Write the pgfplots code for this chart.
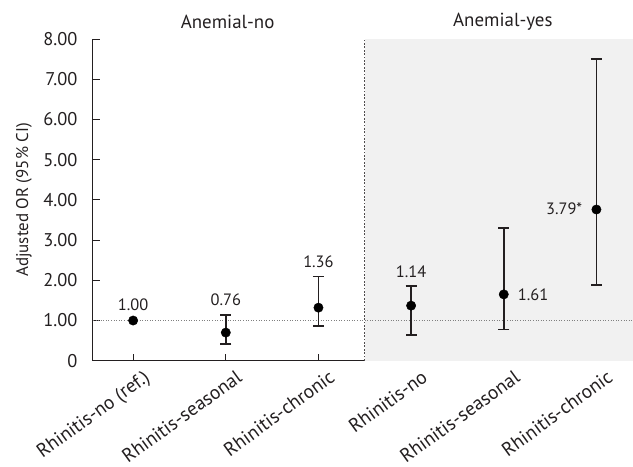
\documentclass[border=0pt]{standalone}
\usepackage{fontspec}
\setmainfont{PT Sans}
\usepackage{pgfplots}
\pgfplotsset{compat=1.18}
\definecolor{shade}{HTML}{F1F1F1}
\definecolor{txt}{HTML}{231F20}
\begin{document}
\begin{tikzpicture}[x=1bp,y=1bp]
\begin{axis}[
  scale only axis,
  width=540bp, height=322bp,
  xmin=-0.434, xmax=5.39,
  ymin=0, ymax=8,
  axis lines*=left,
  axis line style={line width=0.9pt, color=txt},
  clip=false,
  xtick={0,1,2,3,4,5},
  xticklabels={Rhinitis-no (ref.),Rhinitis-seasonal,Rhinitis-chronic,Rhinitis-no,Rhinitis-seasonal,Rhinitis-chronic},
  ytick={0,1,2,3,4,5,6,7,8},
  yticklabels={0,1.00,2.00,3.00,4.00,5.00,6.00,7.00,8.00},
  tick align=inside,
  major tick length=7bp,
  tick style={line width=0.8pt, color=txt},
  x tick label style={rotate=36, anchor=north east, font=\fontsize{19.5}{20}\selectfont, color=txt, inner sep=2pt, xshift=5bp, yshift=-10bp},
  y tick label style={font=\fontsize{18.5}{19}\selectfont, color=txt, xshift=-12bp},
  ylabel={Adjusted OR (95\% CI)},
  every axis y label/.style={at={(rel axis cs:0,0.5)}, rotate=90, anchor=center, yshift=69bp, font=\fontsize{17}{18}\selectfont, color=txt},
]
\addplot[fill=shade, draw=none, forget plot] coordinates {(2.5,0) (5.39,0) (5.39,8) (2.5,8)} -- cycle;
\addplot[dash pattern=on 1.8bp off 1.6bp, line width=1.4pt, color=txt!80, forget plot] coordinates {(2.5,0) (2.5,8)};
\addplot[dotted, line width=0.6pt, color=gray, forget plot] coordinates {(-0.434,1) (5.39,1)};
\addplot[only marks, mark=*, mark size=4.7bp, color=black,
  error bars/.cd, y dir=both, y explicit,
  error bar style={line width=1.6pt, color=txt},
  error mark options={rotate=90, mark size=5.5bp, line width=1.6pt, color=txt}]
  coordinates {
  (0,1.00)
  (1,0.70) +=(0,0.43) -=(0,0.28)
  (2,1.32) +=(0,0.77) -=(0,0.45)
  (3,1.37) +=(0,0.49) -=(0,0.73)
  (4,1.65) +=(0,1.65) -=(0,0.87)
  (5,3.76) +=(0,3.74) -=(0,1.87)
  };
\begin{scope}[every node/.style={font=\fontsize{16.5}{17}\selectfont, color=txt}]
\node at (axis cs:0,1.39) {1.00};
\node at (axis cs:1,1.52) {0.76};
\node at (axis cs:2,2.46) {1.36};
\node at (axis cs:3,2.21) {1.14};
\node[anchor=west] at (axis cs:4.115,1.64) {1.61};
\node[anchor=east] at (axis cs:4.885,3.77) {3.79*};
\end{scope}
\node[font=\fontsize{19}{20}\selectfont, color=txt] at (axis cs:1.02,8.42) {Anemial-no};
\node[font=\fontsize{19}{20}\selectfont, color=txt] at (axis cs:3.99,8.42) {Anemial-yes};
\path (rel axis cs:0,1) ++(-93bp,39bp);
\end{axis}
\end{tikzpicture}
\end{document}
